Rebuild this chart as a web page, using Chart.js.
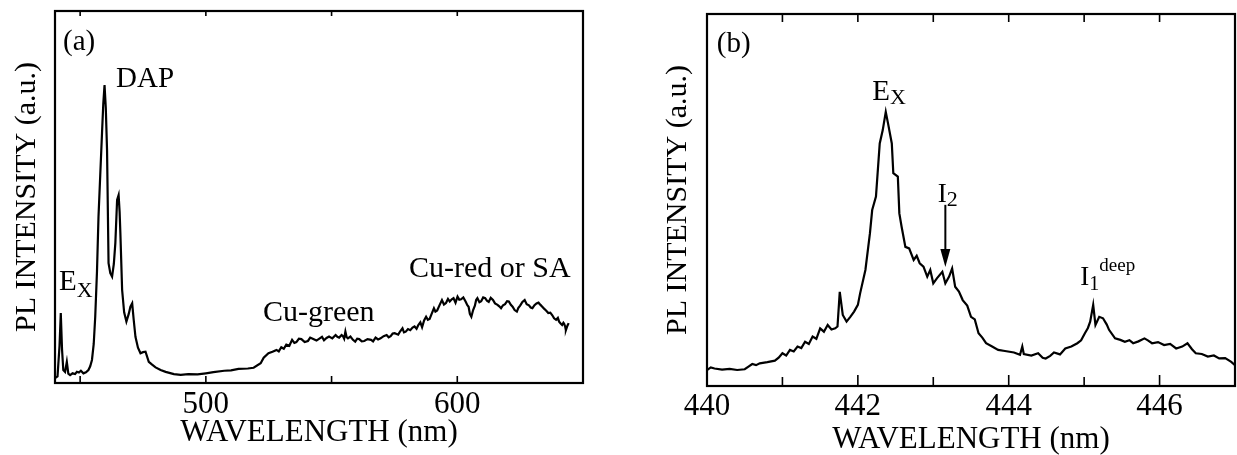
<!DOCTYPE html>
<html>
<head>
<meta charset="utf-8">
<script src="https://cdn.jsdelivr.net/npm/chart.js@4.4.1/dist/chart.umd.min.js"></script>
<style>
  html, body { margin: 0; padding: 0; background: #fff; }
  #wrap { position: relative; width: 1237px; height: 455px; }
  .panel { position: absolute; top: 0; height: 455px; }
  #panelA { left: 0; width: 620px; }
  #panelB { left: 620px; width: 617px; }
</style>
</head>
<body>
<div id="wrap">
  <div class="panel" id="panelA"><canvas id="chartA"></canvas></div>
  <div class="panel" id="panelB"><canvas id="chartB"></canvas></div>
</div>
<script>
// panel (a): wide-range spectrum, wavelength in nm / intensity in a.u.
const waveA = [440.0, 441.0, 441.8, 442.3, 442.8, 443.3, 444.0, 444.7, 445.3, 446.0, 447.0, 448.0, 448.7, 449.5,
  450.3, 451.3, 452.3, 453.3, 454.0, 454.7, 455.4, 456.0, 456.7, 457.3, 458.0, 458.7, 459.2, 459.7, 460.2, 460.7,
  461.3, 462.0, 462.7, 463.4, 464.0, 464.7, 465.3, 465.7, 466.0, 466.7, 467.5, 468.4, 469.3, 470.0, 470.7, 471.3,
  472.0, 473.0, 474.0, 475.0, 476.0, 477.3, 478.5, 480.0, 482.0, 484.0, 487.3, 490.0, 493.0, 496.7, 500.0, 503.0,
  507.3, 510.0, 513.0, 516.7, 519.0, 521.8, 523.0, 524.9, 526.5, 528.1, 529.0, 530.0, 531.0, 532.0, 533.2, 534.3,
  535.2, 536.0, 537.0, 538.0, 539.3, 540.6, 541.5, 542.5, 544.0, 545.3, 546.2, 547.0, 548.0, 549.0, 550.3, 551.6,
  552.3, 553.0, 554.0, 554.5, 555.0, 555.5, 556.0, 556.5, 557.5, 558.5, 559.4, 560.2, 561.0, 562.0, 563.0, 564.3,
  565.7, 566.5, 567.5, 568.5, 569.5, 570.7, 571.9, 572.7, 573.5, 574.3, 575.1, 576.5, 577.3, 578.2, 578.8, 579.5,
  580.4, 581.3, 582.2, 583.0, 583.8, 584.5, 585.3, 586.0, 586.8, 587.6, 588.3, 589.0, 589.8, 590.7, 591.3, 592.0,
  593.0, 593.9, 594.7, 595.5, 596.3, 597.0, 597.8, 598.5, 599.3, 600.1, 600.8, 601.5, 602.4, 603.3, 604.0, 604.5,
  605.0, 605.6, 606.3, 607.0, 607.5, 608.0, 608.8, 609.5, 610.3, 611.1, 611.8, 612.5, 613.3, 614.2, 615.0, 616.0,
  616.7, 617.4, 618.2, 619.0, 619.8, 620.5, 621.3, 622.0, 622.8, 623.7, 624.3, 625.0, 625.9, 626.8, 627.6, 628.5,
  629.2, 629.9, 630.7, 631.5, 632.3, 633.1, 633.8, 634.5, 635.3, 636.2, 637.0, 637.8, 638.5, 639.3, 640.0, 640.5,
  641.1, 641.7, 642.2, 642.5, 642.9, 643.2, 643.8, 644.3];
const intensityA = [1.3, 1.8, 10.0, 18.8, 9.0, 3.5, 3.0, 5.7, 2.5, 2.1, 2.6, 2.4, 3.0, 2.8,
  3.3, 2.6, 2.9, 3.5, 4.5, 6.2, 10.5, 17.8, 30.0, 44.7, 56.0, 67.2, 75.0, 80.1, 74.0, 62.6,
  32.2, 29.5, 28.6, 32.0, 37.6, 49.2, 50.5, 46.0, 40.3, 25.0, 19.0, 16.5, 18.5, 20.5, 21.4, 17.0,
  12.4, 9.5, 8.0, 8.3, 8.4, 5.7, 5.0, 4.2, 3.5, 3.0, 2.4, 2.2, 2.4, 2.3, 2.6, 2.9,
  3.3, 3.4, 3.8, 3.9, 4.1, 5.3, 6.8, 8.0, 8.4, 8.9, 8.5, 9.6, 9.2, 10.3, 10.0, 11.6,
  10.8, 11.0, 11.9, 11.8, 11.0, 11.3, 12.2, 11.9, 11.4, 12.0, 12.4, 11.5, 12.1, 12.5, 12.0, 12.9,
  12.4, 12.2, 12.9, 12.6, 11.9, 13.8, 12.3, 12.0, 12.5, 11.6, 11.1, 11.9, 11.8, 11.2, 11.3, 11.8,
  11.6, 11.2, 12.2, 11.7, 12.0, 12.6, 12.9, 12.3, 12.6, 13.3, 13.4, 13.0, 13.9, 14.7, 13.6, 13.8,
  14.5, 14.2, 14.9, 15.2, 14.6, 15.6, 16.3, 15.0, 16.8, 17.8, 17.0, 17.2, 18.6, 20.1, 19.2, 19.5,
  21.0, 22.3, 21.1, 21.5, 22.6, 21.9, 22.5, 22.8, 21.6, 23.2, 22.4, 22.5, 23.0, 21.9, 20.9, 20.5,
  18.6, 17.8, 19.6, 20.8, 22.3, 22.8, 21.7, 22.0, 23.0, 22.8, 22.1, 21.8, 22.9, 22.3, 21.4, 21.0,
  20.6, 20.1, 20.9, 21.2, 22.0, 21.9, 21.0, 20.5, 19.6, 19.2, 20.2, 20.8, 21.8, 22.3, 21.2, 20.9,
  20.3, 20.1, 20.9, 21.4, 21.6, 21.0, 20.5, 20.0, 19.5, 18.8, 18.9, 18.2, 17.4, 17.0, 17.5, 16.5,
  16.0, 15.6, 16.2, 15.9, 15.2, 14.2, 15.4, 16.1];

// panel (b): band-edge region
const waveB = [440.0, 440.05, 440.1, 440.2, 440.3, 440.4, 440.5, 440.55, 440.6, 440.65, 440.7, 440.8, 440.9,
  440.95, 441.0, 441.05, 441.1, 441.15, 441.2, 441.25, 441.3, 441.35, 441.4, 441.45, 441.5, 441.55, 441.6,
  441.65, 441.7, 441.73, 441.76, 441.8, 441.85, 441.9, 441.95, 442.0, 442.03, 442.1, 442.16, 442.19, 442.24,
  442.29, 442.33, 442.37, 442.4, 442.45, 442.47, 442.53, 442.55, 442.58, 442.63, 442.68, 442.74, 442.78, 442.82,
  442.87, 442.92, 442.96, 443.0, 443.05, 443.12, 443.16, 443.21, 443.25, 443.29, 443.34, 443.39, 443.45, 443.5,
  443.55, 443.6, 443.65, 443.7, 443.78, 443.86, 443.95, 444.07, 444.15, 444.18, 444.2, 444.3, 444.39, 444.45,
  444.49, 444.55, 444.6, 444.68, 444.75, 444.83, 444.91, 444.96, 445.01, 445.05, 445.08, 445.12, 445.15, 445.2,
  445.25, 445.3, 445.33, 445.41, 445.48, 445.54, 445.6, 445.65, 445.72, 445.8, 445.85, 445.9, 445.98, 446.06,
  446.14, 446.22, 446.3, 446.37, 446.43, 446.48, 446.56, 446.64, 446.72, 446.79, 446.87, 446.95, 447.0];
const intensityB = [4.3, 5.0, 4.7, 4.4, 4.6, 4.3, 4.5, 5.2, 5.9, 5.6, 6.1, 6.4, 6.8,
  7.6, 8.8, 8.2, 9.7, 9.3, 10.6, 10.2, 11.9, 11.3, 13.3, 12.7, 15.5, 14.6, 16.4,
  15.2, 15.5, 16.0, 25.3, 19.1, 17.3, 18.6, 20.0, 21.8, 24.9, 31.2, 41.0, 47.3, 50.9,
  65.2, 68.8, 73.7, 70.6, 65.2, 57.2, 56.3, 46.4, 42.8, 37.4, 37.0, 33.9, 35.0, 33.0,
  32.1, 29.4, 31.2, 27.6, 29.0, 30.7, 27.6, 29.4, 31.6, 26.7, 25.4, 23.1, 21.6, 18.6,
  17.9, 14.2, 13.0, 11.5, 10.6, 9.7, 9.4, 9.0, 8.4, 10.6, 8.6, 8.2, 8.8, 7.6,
  7.4, 8.1, 9.0, 8.5, 10.1, 10.6, 11.5, 12.3, 14.2, 15.6, 17.3, 21.8, 16.4, 18.6,
  18.2, 16.5, 15.1, 12.8, 12.4, 11.9, 12.3, 11.5, 12.0, 12.8, 12.2, 11.5, 11.8, 11.0,
  11.3, 10.1, 10.6, 11.5, 9.9, 8.8, 8.6, 7.9, 8.2, 7.4, 7.5, 6.5, 5.6];

const tickValuesA = [450, 500, 550, 600, 650];
const tickLabelsA = [500, 600];
const tickValuesB = [441, 442, 443, 444, 445, 446];
const tickLabelsB = [440, 442, 444, 446];

const SERIF = '"Liberation Serif", "Times New Roman", serif';
Chart.defaults.font.family = SERIF;
Chart.defaults.color = '#000';

// peak labels, positioned in data units
const labelsA = [
  { x: 443.2, y: 89.5, parts: [{ t: '(a)', size: 29 }] },
  { x: 464.3, y: 79.6, parts: [{ t: 'DAP', size: 29 }] },
  { x: 441.6, y: 25.0, parts: [{ t: 'E', size: 29 }, { t: 'X', size: 22, dy: 7 }] },
  { x: 522.7, y: 16.7, parts: [{ t: 'Cu-green', size: 30 }] },
  { x: 580.8, y: 28.5, parts: [{ t: 'Cu-red or SA', size: 30 }] }
];
const labelsB = [
  { x: 440.13, y: 89.8, parts: [{ t: '(b)', size: 29 }] },
  { x: 442.19, y: 76.9, parts: [{ t: 'E', size: 29 }, { t: 'X', size: 22, dy: 4 }] },
  { x: 443.06, y: 49.5, parts: [{ t: 'I', size: 27 }, { t: '2', size: 22, dy: 4 }] },
  { x: 444.95, y: 27.2, parts: [{ t: 'I', size: 27 }, { t: '1', size: 20, dy: 5 }, { t: 'deep', size: 19, dy: -14 }] }
];
const arrowsB = [{ x: 443.16, from: 48.7, to: 32.0 }];

const framePlugin = {
  id: 'frame',
  afterDatasetsDraw(chart, args, opts) {
    const { ctx, chartArea: a, scales } = chart;
    ctx.save();
    ctx.strokeStyle = '#000';
    ctx.lineWidth = 2.2;
    ctx.strokeRect(a.left, a.top, a.right - a.left, a.bottom - a.top);
    ctx.lineWidth = 1.6;
    opts.ticks.forEach(v => {
      const px = scales.x.getPixelForValue(v);
      const len = opts.major.includes(v) ? opts.majorLen : opts.minorLen;
      ctx.beginPath();
      ctx.moveTo(px, a.bottom);
      ctx.lineTo(px, a.bottom - len);
      ctx.moveTo(px, a.top);
      ctx.lineTo(px, a.top + opts.topLen);
      ctx.stroke();
    });
    ctx.restore();
  }
};

const labelPlugin = {
  id: 'peakLabels',
  afterDraw(chart, args, opts) {
    const { ctx, scales } = chart;
    ctx.save();
    ctx.fillStyle = '#000';
    ctx.textBaseline = 'alphabetic';
    ctx.textAlign = 'left';
    opts.items.forEach(item => {
      let cx = scales.x.getPixelForValue(item.x);
      const cy = scales.y.getPixelForValue(item.y);
      item.parts.forEach(p => {
        ctx.font = p.size + 'px ' + SERIF;
        ctx.fillText(p.t, cx, cy + (p.dy || 0));
        cx += ctx.measureText(p.t).width;
      });
    });
    (opts.arrows || []).forEach(ar => {
      const x = scales.x.getPixelForValue(ar.x);
      const y1 = scales.y.getPixelForValue(ar.from);
      const y2 = scales.y.getPixelForValue(ar.to);
      ctx.strokeStyle = '#000';
      ctx.lineWidth = 2;
      ctx.beginPath();
      ctx.moveTo(x, y1);
      ctx.lineTo(x, y2 - 12);
      ctx.stroke();
      ctx.beginPath();
      ctx.moveTo(x - 5, y2 - 18);
      ctx.lineTo(x + 5, y2 - 18);
      ctx.lineTo(x, y2);
      ctx.closePath();
      ctx.fill();
    });
    ctx.restore();
  }
};

function makeChart(id, wave, values, cfg) {
  const points = wave.map((w, i) => ({ x: w, y: values[i] }));
  return new Chart(document.getElementById(id), {
    type: 'line',
    data: {
      datasets: [{
        data: points,
        borderColor: '#000',
        borderWidth: 2.2,
        pointRadius: 0,
        tension: 0,
        fill: false
      }]
    },
    options: {
      responsive: true,
      maintainAspectRatio: false,
      animation: false,
      layout: { padding: cfg.padding },
      plugins: {
        legend: { display: false },
        tooltip: { enabled: false },
        frame: cfg.frame,
        peakLabels: { items: cfg.labels, arrows: cfg.arrows }
      },
      scales: {
        x: {
          type: 'linear',
          min: cfg.xmin,
          max: cfg.xmax,
          grid: { display: false, drawTicks: false },
          border: { display: false },
          afterBuildTicks: scale => { scale.ticks = cfg.tickLabels.map(v => ({ value: v })); },
          afterFit: scale => { scale.height = cfg.xHeight; },
          ticks: {
            autoSkip: false,
            maxRotation: 0,
            padding: cfg.tickPad,
            font: { size: 31 },
            callback: v => String(v)
          },
          title: {
            display: true,
            text: 'WAVELENGTH (nm)',
            font: { size: 31, lineHeight: 1 },
            padding: { top: 0, bottom: cfg.xTitlePad }
          }
        },
        y: {
          min: 0,
          max: 100,
          grid: { display: false, drawTicks: false },
          border: { display: false },
          ticks: { display: false },
          afterFit: scale => { scale.width = cfg.yWidth; },
          title: {
            display: true,
            text: 'PL INTENSITY (a.u.)',
            font: { size: 30, lineHeight: 1 },
            padding: { top: cfg.yTitlePad, bottom: 0 }
          }
        }
      }
    },
    plugins: [framePlugin, labelPlugin]
  });
}

makeChart('chartA', waveA, intensityA, {
  xmin: 440, xmax: 650,
  padding: { top: 11, right: 37, left: 0, bottom: 0 },
  xHeight: 72, yWidth: 55, tickPad: 3, xTitlePad: 7, yTitlePad: 12,
  tickLabels: tickLabelsA,
  frame: { ticks: tickValuesA, major: tickLabelsA, majorLen: 7, minorLen: 7, topLen: 5 },
  labels: labelsA
});

makeChart('chartB', waveB, intensityB, {
  xmin: 440, xmax: 447,
  padding: { top: 14, right: 2, left: 0, bottom: 0 },
  xHeight: 69, yWidth: 87, tickPad: 2, xTitlePad: 0, yTitlePad: 43,
  tickLabels: tickLabelsB,
  frame: { ticks: tickValuesB, major: tickLabelsB, majorLen: 11, minorLen: 9, topLen: 8 },
  labels: labelsB,
  arrows: arrowsB
});
</script>
</body>
</html>
